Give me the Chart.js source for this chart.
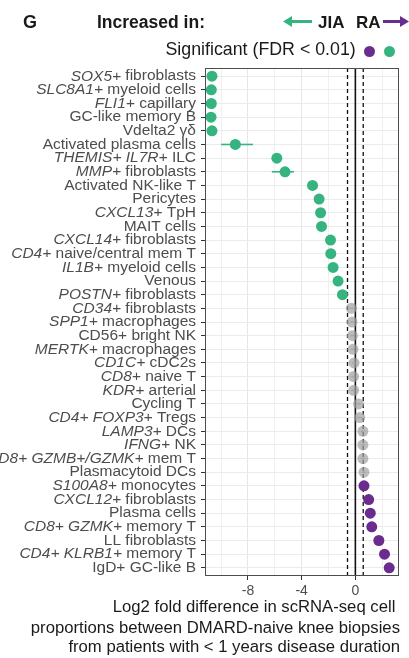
<!DOCTYPE html>
<html>
<head>
<meta charset="utf-8">
<script src="https://cdn.jsdelivr.net/npm/chart.js@4"></script>
<style>
  body { margin: 0; background: #fff; }
  #wrap { position: relative; width: 409px; height: 658px; font-family: "Liberation Sans", Arial, sans-serif; }
  #wrap span { position: absolute; line-height: 1; white-space: pre; color: #1a1a1a; }
  .dot { position: absolute; width: 11px; height: 11px; border-radius: 50%; }
  canvas { position: absolute; left: 0; top: 0; }
  .xt { right: 9px; font-size: 16.7px; text-align: right; }
</style>
</head>
<body>
<div id="wrap">
  <canvas id="forest" width="409" height="658"></canvas>
  <span style="left:23px; top:13px; font-size:18px; font-weight:bold;">G</span>
  <span style="left:97px; top:13.5px; font-size:17.5px; font-weight:bold;">Increased in:</span>
  <span style="left:318px; top:14px; font-size:17px; font-weight:bold;">JIA</span>
  <span style="left:356px; top:14px; font-size:17px; font-weight:bold;">RA</span>
  <svg style="position:absolute; left:0; top:0;" width="409" height="40">
    <line x1="290" y1="21.5" x2="312" y2="21.5" stroke="#35b47f" stroke-width="3"/>
    <polygon points="283,21.5 292,16 292,27" fill="#35b47f"/>
    <line x1="383" y1="21.5" x2="402" y2="21.5" stroke="#6a2d8f" stroke-width="3"/>
    <polygon points="409,21.5 400,16 400,27" fill="#6a2d8f"/>
  </svg>
  <span style="left:165.5px; top:41px; font-size:17.8px;">Significant (FDR &lt; 0.01)</span>
  <div class="dot" style="left:363.5px; top:45.5px; background:#6a2d8f;"></div>
  <div class="dot" style="left:383.5px; top:45.5px; background:#35b47f;"></div>
  <span class="xt" style="top:599px;">Log2 fold difference in scRNA-seq cell </span>
  <span class="xt" style="top:619.5px;">proportions between DMARD-naive knee biopsies</span>
  <span class="xt" style="top:639px;">from patients with &lt; 1 years disease duration</span>
</div>
<script>
// cell types, top to bottom, with the italic gene part kept apart
const cellTypes = [
  "SOX5+ fibroblasts", "SLC8A1+ myeloid cells", "FLI1+ capillary", "GC-like memory B",
  "Vdelta2 γδ", "Activated plasma cells", "THEMIS+ IL7R+ ILC", "MMP+ fibroblasts",
  "Activated NK-like T", "Pericytes", "CXCL13+ TpH", "MAIT cells",
  "CXCL14+ fibroblasts", "CD4+ naive/central mem T", "IL1B+ myeloid cells", "Venous",
  "POSTN+ fibroblasts", "CD34+ fibroblasts", "SPP1+ macrophages", "CD56+ bright NK",
  "MERTK+ macrophages", "CD1C+ cDC2s", "CD8+ naive T", "KDR+ arterial",
  "Cycling T", "CD4+ FOXP3+ Tregs", "LAMP3+ DCs", "IFNG+ NK",
  "CD8+ GZMB+/GZMK+ mem T", "Plasmacytoid DCs", "S100A8+ monocytes", "CXCL12+ fibroblasts",
  "Plasma cells", "CD8+ GZMK+ memory T", "LL fibroblasts", "CD4+ KLRB1+ memory T",
  "IgD+ GC-like B"
];
const italicPart = [
  "SOX5+", "SLC8A1+", "FLI1+", "",
  "", "", "THEMIS+ IL7R+", "MMP+",
  "", "", "CXCL13+", "",
  "CXCL14+", "CD4+", "IL1B+", "",
  "POSTN+", "CD34+", "SPP1+", "",
  "MERTK+", "CD1C+", "CD8+", "KDR+",
  "", "CD4+ FOXP3+", "LAMP3+", "IFNG+",
  "CD8+ GZMB+/GZMK+", "", "S100A8+", "CXCL12+",
  "", "CD8+ GZMK+", "", "CD4+ KLRB1+",
  ""
];
const log2fc = [
  -10.68, -10.73, -10.73, -10.75,
  -10.68, -8.94, -5.85, -5.24,
  -3.19, -2.70, -2.59, -2.52,
  -1.85, -1.83, -1.66, -1.29,
  -0.96, -0.30, -0.25, -0.22,
  -0.18, -0.10, -0.14, -0.13,
  0.24, 0.32, 0.56, 0.56,
  0.56, 0.64, 0.64, 0.99,
  1.11, 1.22, 1.75, 2.17,
  2.52
];
const ciLow = [
  -10.9, -10.95, -10.95, -10.95,
  -10.9, -10.0, -6.05, -6.22,
  -3.35, -2.85, -2.75, -2.7,
  -2.0, -2.0, -1.8, -1.45,
  -1.1, -0.45, -0.4, -0.35,
  -0.3, -0.25, -0.3, -0.28,
  0.1, 0.18, 0.42, 0.42,
  0.42, 0.5, 0.5, 0.85,
  0.95, 1.05, 1.58, 2.0,
  2.35
];
const ciHigh = [
  -10.45, -10.5, -10.5, -10.55,
  -10.45, -7.63, -5.65, -4.57,
  -3.03, -2.55, -2.43, -2.35,
  -1.7, -1.66, -1.5, -1.13,
  -0.8, -0.15, -0.1, -0.08,
  -0.05, 0.05, 0.0, 0.0,
  0.38, 0.46, 0.7, 0.7,
  0.7, 0.78, 0.78, 1.13,
  1.27, 1.38, 1.92, 2.33,
  2.7
];
const significant = [
  true, true, true, true, true, true, true, true, true, true,
  true, true, true, true, true, true, true,
  false, false, false, false, false, false, false, false, false,
  false, false, false, false,
  true, true, true, true, true, true, true
];
const xTickLabels = [-10, -8, -6, -4, -2, 0, 2];
const shownTicks = [-8, -4, 0];
const foldCutoff = 0.585; // log2(1.5)

const GREEN = "#35b47f", PURPLE = "#6a2d8f", GREY = "rgba(160,160,160,0.7)";
const FONT = '"Liberation Sans", Arial, sans-serif';

function colourFor(i) {
  if (!significant[i]) return GREY;
  return log2fc[i] < 0 ? GREEN : PURPLE;
}

const points = log2fc.map((v, i) => ({ x: v, y: i }));

const refLines = {
  id: "refLines",
  beforeDatasetsDraw(chart) {
    const { ctx, chartArea: a, scales: { x, y } } = chart;
    ctx.save();
    ctx.strokeStyle = "#111";
    ctx.lineWidth = 1.3;
    ctx.setLineDash([4, 3]);
    [-foldCutoff, foldCutoff].forEach(v => {
      const px = x.getPixelForValue(v);
      ctx.beginPath(); ctx.moveTo(px, a.top); ctx.lineTo(px, a.bottom); ctx.stroke();
    });
    ctx.setLineDash([]);
    ctx.lineWidth = 1.6;
    const zx = x.getPixelForValue(0);
    ctx.beginPath(); ctx.moveTo(zx, a.top); ctx.lineTo(zx, a.bottom); ctx.stroke();
    // confidence bars
    ctx.lineWidth = 1.6;
    log2fc.forEach((v, i) => {
      const py = y.getPixelForValue(i);
      ctx.strokeStyle = colourFor(i);
      ctx.beginPath();
      ctx.moveTo(x.getPixelForValue(ciLow[i]), py);
      ctx.lineTo(x.getPixelForValue(ciHigh[i]), py);
      ctx.stroke();
    });
    ctx.restore();
  },
  afterDraw(chart) {
    const { ctx, chartArea: a, scales: { y } } = chart;
    ctx.save();
    ctx.strokeStyle = "#4d4d4d";
    ctx.lineWidth = 1;
    ctx.strokeRect(a.left + 0.5, a.top + 0.5, a.right - a.left - 1, a.bottom - a.top - 1);
    // y labels, gene names in italics
    ctx.fillStyle = "#4d4d4d";
    ctx.textBaseline = "middle";
    const right = a.left - 9;
    const plain = "15.5px " + FONT, ital = "italic 15.5px " + FONT;
    cellTypes.forEach((lab, i) => {
      const py = y.getPixelForValue(i);
      const it = italicPart[i];
      const rest = it ? lab.slice(it.length) : lab;
      ctx.font = plain;
      const wRest = ctx.measureText(rest).width;
      ctx.textAlign = "right";
      ctx.fillText(rest, right, py);
      if (it) {
        ctx.font = ital;
        ctx.fillText(it, right - wRest, py);
      }
    });
    ctx.restore();
  }
};

new Chart(document.getElementById("forest"), {
  type: "scatter",
  data: {
    datasets: [{
      data: points,
      pointRadius: 5.5,
      pointHoverRadius: 5.5,
      pointBorderWidth: 0,
      pointBackgroundColor: log2fc.map((_, i) => colourFor(i))
    }]
  },
  options: {
    responsive: false,
    animation: false,
    layout: { padding: { top: 68, right: 10, left: 0, bottom: 0 } },
    plugins: { legend: { display: false }, tooltip: { enabled: false } },
    scales: {
      x: {
        type: "linear",
        min: -11.2,
        max: 3.25,
        afterBuildTicks: axis => { axis.ticks = xTickLabels.map(v => ({ value: v })); },
        afterFit: axis => { axis.height = 82; },
        border: { display: false },
        grid: {
          color: ctx => shownTicks.includes(ctx.tick && ctx.tick.value) ? "#e6e6e6" : "#f0f0f0",
          tickColor: ctx => shownTicks.includes(ctx.tick && ctx.tick.value) ? "#333" : "rgba(0,0,0,0)",
          tickLength: 4
        },
        ticks: {
          color: "#4d4d4d",
          font: { family: FONT, size: 14 },
          padding: 3,
          maxRotation: 0,
          callback: v => shownTicks.includes(v) ? String(v) : ""
        }
      },
      y: {
        type: "linear",
        reverse: true,
        min: -0.6,
        max: cellTypes.length - 0.4,
        afterBuildTicks: axis => { axis.ticks = cellTypes.map((_, i) => ({ value: i })); },
        afterFit: axis => { axis.width = 205; },
        border: { display: false },
        grid: { color: "#ebebeb", tickColor: "#333", tickLength: 4 },
        ticks: { display: false }
      }
    }
  },
  plugins: [refLines]
});
</script>
</body>
</html>
